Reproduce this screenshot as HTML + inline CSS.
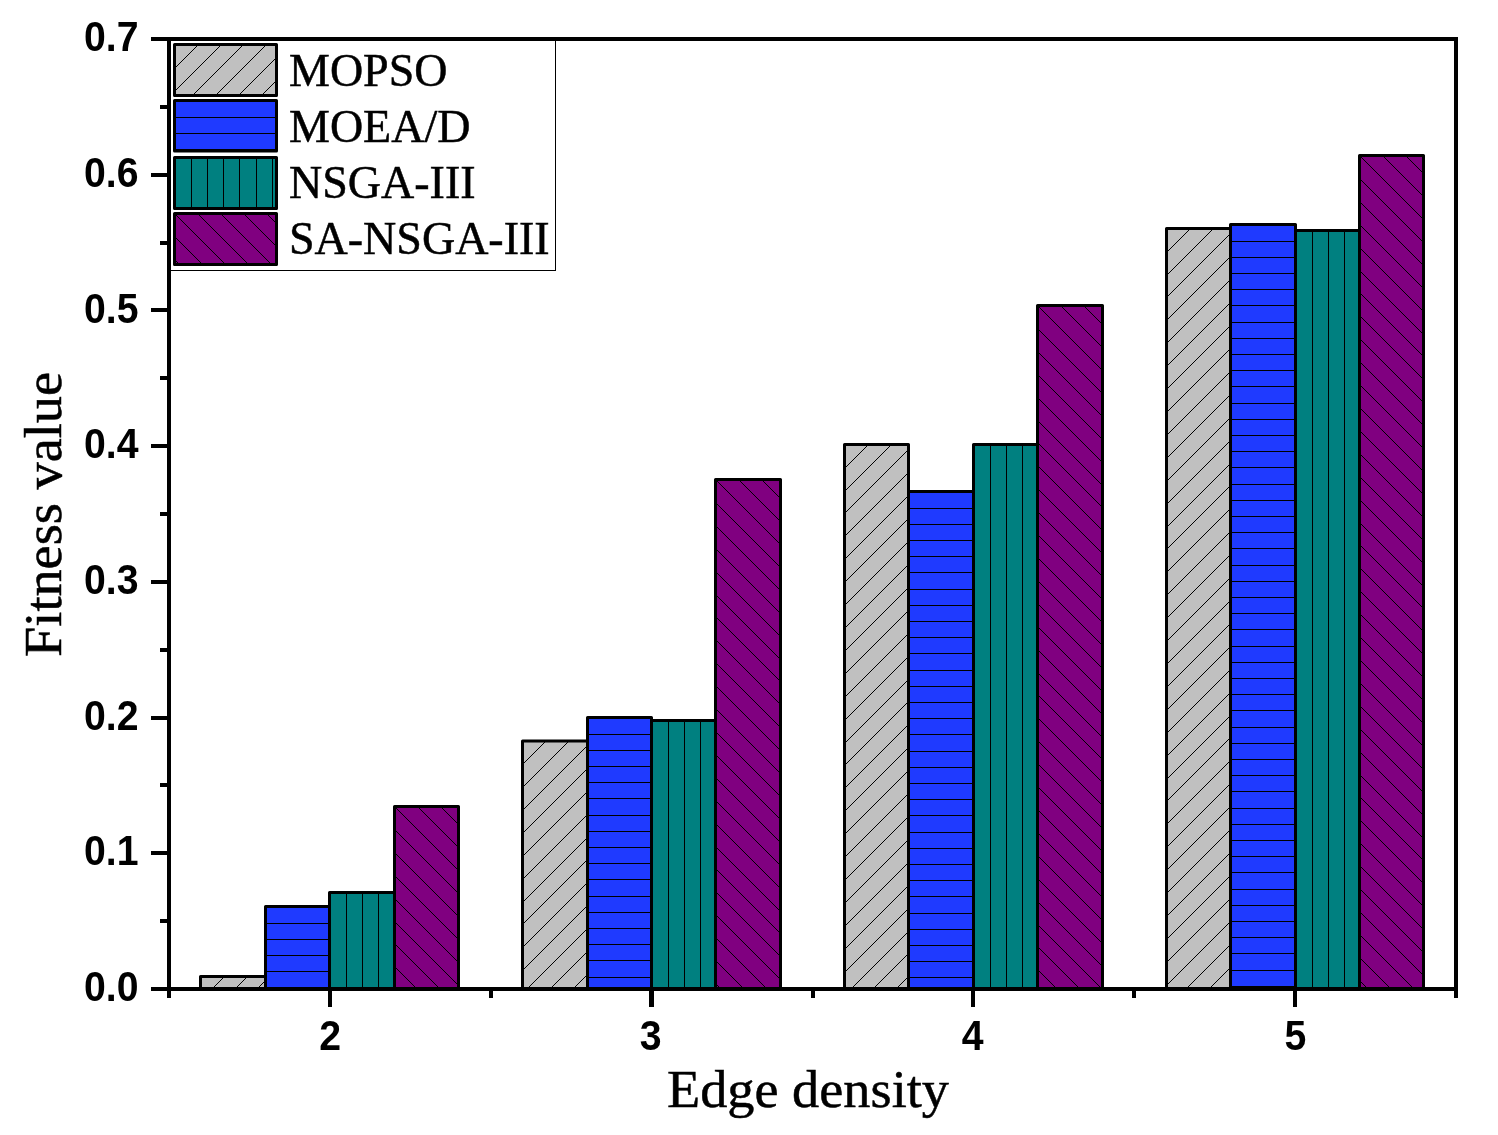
<!DOCTYPE html>
<html lang="en"><head><meta charset="utf-8"><title>Fitness value vs Edge density</title>
<style>
html,body{margin:0;padding:0;background:#fff;}
body{width:1498px;height:1135px;overflow:hidden;}
svg{display:block;will-change:transform;}
.tk{font-family:"Liberation Sans",Arial,Helvetica,sans-serif;font-weight:bold;font-size:41.8px;fill:#000;}
.ttl{font-family:"Liberation Serif","Times New Roman",Times,serif;font-size:53.5px;fill:#000;stroke:#000;stroke-width:0.5px;}
.leg{font-family:"Liberation Serif","Times New Roman",Times,serif;font-size:46px;fill:#000;stroke:#000;stroke-width:0.5px;}
</style></head><body>
<svg width="1498" height="1135" viewBox="0 0 1498 1135">
<rect width="1498" height="1135" fill="#fff"/>
<clipPath id="c1"><rect x="200.50" y="976.50" width="65.00" height="12.50"/></clipPath>
<rect x="200.50" y="976.50" width="65.00" height="12.50" fill="#c0c0c0"/>
<path d="M198.50 1002.50L267.50 933.50M198.50 1025.50L267.50 956.50M198.50 1047.50L267.50 978.50" stroke="#000" stroke-width="1" fill="none" clip-path="url(#c1)" shape-rendering="crispEdges"/>
<rect x="200.50" y="976.50" width="65.00" height="12.50" fill="none" stroke="#000" stroke-width="3" stroke-linejoin="round"/>
<clipPath id="c2"><rect x="265.50" y="906.50" width="64.00" height="82.50"/></clipPath>
<rect x="265.50" y="906.50" width="64.00" height="82.50" fill="#1f3aff"/>
<path d="M265.50 923.10H329.50M265.50 939.30H329.50M265.50 955.50H329.50M265.50 971.70H329.50M265.50 987.90H329.50" stroke="#000" stroke-width="1" fill="none" clip-path="url(#c2)" shape-rendering="crispEdges"/>
<rect x="265.50" y="906.50" width="64.00" height="82.50" fill="none" stroke="#000" stroke-width="3" stroke-linejoin="round"/>
<clipPath id="c3"><rect x="329.50" y="892.50" width="65.00" height="96.50"/></clipPath>
<rect x="329.50" y="892.50" width="65.00" height="96.50" fill="#008080"/>
<path d="M346.30 892.50V989.00M362.50 892.50V989.00M378.70 892.50V989.00" stroke="#000" stroke-width="1" fill="none" clip-path="url(#c3)" shape-rendering="crispEdges"/>
<rect x="329.50" y="892.50" width="65.00" height="96.50" fill="none" stroke="#000" stroke-width="3" stroke-linejoin="round"/>
<clipPath id="c4"><rect x="394.50" y="806.50" width="64.00" height="182.50"/></clipPath>
<rect x="394.50" y="806.50" width="64.00" height="182.50" fill="#800080"/>
<path d="M392.50 758.50L460.50 826.50M392.50 781.50L460.50 849.50M392.50 804.50L460.50 872.50M392.50 827.50L460.50 895.50M392.50 850.50L460.50 918.50M392.50 873.50L460.50 941.50M392.50 896.50L460.50 964.50M392.50 919.50L460.50 987.50M392.50 941.50L460.50 1009.50M392.50 964.50L460.50 1032.50" stroke="#000" stroke-width="1" fill="none" clip-path="url(#c4)" shape-rendering="crispEdges"/>
<rect x="394.50" y="806.50" width="64.00" height="182.50" fill="none" stroke="#000" stroke-width="3" stroke-linejoin="round"/>
<clipPath id="c5"><rect x="522.50" y="741.00" width="65.00" height="248.00"/></clipPath>
<rect x="522.50" y="741.00" width="65.00" height="248.00" fill="#c0c0c0"/>
<path d="M520.50 766.50L589.50 697.50M520.50 789.50L589.50 720.50M520.50 812.50L589.50 743.50M520.50 835.50L589.50 766.50M520.50 858.50L589.50 789.50M520.50 881.50L589.50 812.50M520.50 904.50L589.50 835.50M520.50 926.50L589.50 857.50M520.50 949.50L589.50 880.50M520.50 972.50L589.50 903.50M520.50 995.50L589.50 926.50M520.50 1018.50L589.50 949.50M520.50 1041.50L589.50 972.50" stroke="#000" stroke-width="1" fill="none" clip-path="url(#c5)" shape-rendering="crispEdges"/>
<rect x="522.50" y="741.00" width="65.00" height="248.00" fill="none" stroke="#000" stroke-width="3" stroke-linejoin="round"/>
<clipPath id="c6"><rect x="587.50" y="717.50" width="64.00" height="271.50"/></clipPath>
<rect x="587.50" y="717.50" width="64.00" height="271.50" fill="#1f3aff"/>
<path d="M587.50 734.10H651.50M587.50 750.30H651.50M587.50 766.50H651.50M587.50 782.70H651.50M587.50 798.90H651.50M587.50 815.10H651.50M587.50 831.30H651.50M587.50 847.50H651.50M587.50 863.70H651.50M587.50 879.90H651.50M587.50 896.10H651.50M587.50 912.30H651.50M587.50 928.50H651.50M587.50 944.70H651.50M587.50 960.90H651.50M587.50 977.10H651.50" stroke="#000" stroke-width="1" fill="none" clip-path="url(#c6)" shape-rendering="crispEdges"/>
<rect x="587.50" y="717.50" width="64.00" height="271.50" fill="none" stroke="#000" stroke-width="3" stroke-linejoin="round"/>
<clipPath id="c7"><rect x="651.50" y="720.50" width="64.00" height="268.50"/></clipPath>
<rect x="651.50" y="720.50" width="64.00" height="268.50" fill="#008080"/>
<path d="M668.30 720.50V989.00M684.50 720.50V989.00M700.70 720.50V989.00" stroke="#000" stroke-width="1" fill="none" clip-path="url(#c7)" shape-rendering="crispEdges"/>
<rect x="651.50" y="720.50" width="64.00" height="268.50" fill="none" stroke="#000" stroke-width="3" stroke-linejoin="round"/>
<clipPath id="c8"><rect x="715.50" y="479.50" width="65.00" height="509.50"/></clipPath>
<rect x="715.50" y="479.50" width="65.00" height="509.50" fill="#800080"/>
<path d="M713.50 431.50L782.50 500.50M713.50 454.50L782.50 523.50M713.50 477.50L782.50 546.50M713.50 500.50L782.50 569.50M713.50 523.50L782.50 592.50M713.50 546.50L782.50 615.50M713.50 569.50L782.50 638.50M713.50 592.50L782.50 661.50M713.50 614.50L782.50 683.50M713.50 637.50L782.50 706.50M713.50 660.50L782.50 729.50M713.50 683.50L782.50 752.50M713.50 706.50L782.50 775.50M713.50 729.50L782.50 798.50M713.50 752.50L782.50 821.50M713.50 775.50L782.50 844.50M713.50 798.50L782.50 867.50M713.50 821.50L782.50 890.50M713.50 844.50L782.50 913.50M713.50 866.50L782.50 935.50M713.50 889.50L782.50 958.50M713.50 912.50L782.50 981.50M713.50 935.50L782.50 1004.50M713.50 958.50L782.50 1027.50M713.50 981.50L782.50 1050.50" stroke="#000" stroke-width="1" fill="none" clip-path="url(#c8)" shape-rendering="crispEdges"/>
<rect x="715.50" y="479.50" width="65.00" height="509.50" fill="none" stroke="#000" stroke-width="3" stroke-linejoin="round"/>
<clipPath id="c9"><rect x="844.50" y="444.50" width="64.00" height="544.50"/></clipPath>
<rect x="844.50" y="444.50" width="64.00" height="544.50" fill="#c0c0c0"/>
<path d="M842.50 470.50L910.50 402.50M842.50 493.50L910.50 425.50M842.50 515.50L910.50 447.50M842.50 538.50L910.50 470.50M842.50 561.50L910.50 493.50M842.50 584.50L910.50 516.50M842.50 607.50L910.50 539.50M842.50 630.50L910.50 562.50M842.50 653.50L910.50 585.50M842.50 676.50L910.50 608.50M842.50 699.50L910.50 631.50M842.50 722.50L910.50 654.50M842.50 745.50L910.50 677.50M842.50 767.50L910.50 699.50M842.50 790.50L910.50 722.50M842.50 813.50L910.50 745.50M842.50 836.50L910.50 768.50M842.50 859.50L910.50 791.50M842.50 882.50L910.50 814.50M842.50 905.50L910.50 837.50M842.50 928.50L910.50 860.50M842.50 951.50L910.50 883.50M842.50 974.50L910.50 906.50M842.50 997.50L910.50 929.50M842.50 1019.50L910.50 951.50M842.50 1042.50L910.50 974.50" stroke="#000" stroke-width="1" fill="none" clip-path="url(#c9)" shape-rendering="crispEdges"/>
<rect x="844.50" y="444.50" width="64.00" height="544.50" fill="none" stroke="#000" stroke-width="3" stroke-linejoin="round"/>
<clipPath id="c10"><rect x="908.50" y="491.50" width="65.00" height="497.50"/></clipPath>
<rect x="908.50" y="491.50" width="65.00" height="497.50" fill="#1f3aff"/>
<path d="M908.50 508.10H973.50M908.50 524.30H973.50M908.50 540.50H973.50M908.50 556.70H973.50M908.50 572.90H973.50M908.50 589.10H973.50M908.50 605.30H973.50M908.50 621.50H973.50M908.50 637.70H973.50M908.50 653.90H973.50M908.50 670.10H973.50M908.50 686.30H973.50M908.50 702.50H973.50M908.50 718.70H973.50M908.50 734.90H973.50M908.50 751.10H973.50M908.50 767.30H973.50M908.50 783.50H973.50M908.50 799.70H973.50M908.50 815.90H973.50M908.50 832.10H973.50M908.50 848.30H973.50M908.50 864.50H973.50M908.50 880.70H973.50M908.50 896.90H973.50M908.50 913.10H973.50M908.50 929.30H973.50M908.50 945.50H973.50M908.50 961.70H973.50M908.50 977.90H973.50" stroke="#000" stroke-width="1" fill="none" clip-path="url(#c10)" shape-rendering="crispEdges"/>
<rect x="908.50" y="491.50" width="65.00" height="497.50" fill="none" stroke="#000" stroke-width="3" stroke-linejoin="round"/>
<clipPath id="c11"><rect x="973.50" y="444.50" width="64.00" height="544.50"/></clipPath>
<rect x="973.50" y="444.50" width="64.00" height="544.50" fill="#008080"/>
<path d="M990.30 444.50V989.00M1006.50 444.50V989.00M1022.70 444.50V989.00" stroke="#000" stroke-width="1" fill="none" clip-path="url(#c11)" shape-rendering="crispEdges"/>
<rect x="973.50" y="444.50" width="64.00" height="544.50" fill="none" stroke="#000" stroke-width="3" stroke-linejoin="round"/>
<clipPath id="c12"><rect x="1037.50" y="305.50" width="65.00" height="683.50"/></clipPath>
<rect x="1037.50" y="305.50" width="65.00" height="683.50" fill="#800080"/>
<path d="M1035.50 257.50L1104.50 326.50M1035.50 280.50L1104.50 349.50M1035.50 303.50L1104.50 372.50M1035.50 326.50L1104.50 395.50M1035.50 349.50L1104.50 418.50M1035.50 372.50L1104.50 441.50M1035.50 395.50L1104.50 464.50M1035.50 418.50L1104.50 487.50M1035.50 440.50L1104.50 509.50M1035.50 463.50L1104.50 532.50M1035.50 486.50L1104.50 555.50M1035.50 509.50L1104.50 578.50M1035.50 532.50L1104.50 601.50M1035.50 555.50L1104.50 624.50M1035.50 578.50L1104.50 647.50M1035.50 601.50L1104.50 670.50M1035.50 624.50L1104.50 693.50M1035.50 647.50L1104.50 716.50M1035.50 670.50L1104.50 739.50M1035.50 692.50L1104.50 761.50M1035.50 715.50L1104.50 784.50M1035.50 738.50L1104.50 807.50M1035.50 761.50L1104.50 830.50M1035.50 784.50L1104.50 853.50M1035.50 807.50L1104.50 876.50M1035.50 830.50L1104.50 899.50M1035.50 853.50L1104.50 922.50M1035.50 876.50L1104.50 945.50M1035.50 899.50L1104.50 968.50M1035.50 922.50L1104.50 991.50M1035.50 944.50L1104.50 1013.50M1035.50 967.50L1104.50 1036.50" stroke="#000" stroke-width="1" fill="none" clip-path="url(#c12)" shape-rendering="crispEdges"/>
<rect x="1037.50" y="305.50" width="65.00" height="683.50" fill="none" stroke="#000" stroke-width="3" stroke-linejoin="round"/>
<clipPath id="c13"><rect x="1166.50" y="228.50" width="64.00" height="760.50"/></clipPath>
<rect x="1166.50" y="228.50" width="64.00" height="760.50" fill="#c0c0c0"/>
<path d="M1164.50 254.50L1232.50 186.50M1164.50 277.50L1232.50 209.50M1164.50 299.50L1232.50 231.50M1164.50 322.50L1232.50 254.50M1164.50 345.50L1232.50 277.50M1164.50 368.50L1232.50 300.50M1164.50 391.50L1232.50 323.50M1164.50 414.50L1232.50 346.50M1164.50 437.50L1232.50 369.50M1164.50 460.50L1232.50 392.50M1164.50 483.50L1232.50 415.50M1164.50 506.50L1232.50 438.50M1164.50 529.50L1232.50 461.50M1164.50 551.50L1232.50 483.50M1164.50 574.50L1232.50 506.50M1164.50 597.50L1232.50 529.50M1164.50 620.50L1232.50 552.50M1164.50 643.50L1232.50 575.50M1164.50 666.50L1232.50 598.50M1164.50 689.50L1232.50 621.50M1164.50 712.50L1232.50 644.50M1164.50 735.50L1232.50 667.50M1164.50 758.50L1232.50 690.50M1164.50 781.50L1232.50 713.50M1164.50 803.50L1232.50 735.50M1164.50 826.50L1232.50 758.50M1164.50 849.50L1232.50 781.50M1164.50 872.50L1232.50 804.50M1164.50 895.50L1232.50 827.50M1164.50 918.50L1232.50 850.50M1164.50 941.50L1232.50 873.50M1164.50 964.50L1232.50 896.50M1164.50 987.50L1232.50 919.50M1164.50 1010.50L1232.50 942.50M1164.50 1033.50L1232.50 965.50" stroke="#000" stroke-width="1" fill="none" clip-path="url(#c13)" shape-rendering="crispEdges"/>
<rect x="1166.50" y="228.50" width="64.00" height="760.50" fill="none" stroke="#000" stroke-width="3" stroke-linejoin="round"/>
<clipPath id="c14"><rect x="1230.50" y="224.50" width="65.00" height="764.50"/></clipPath>
<rect x="1230.50" y="224.50" width="65.00" height="764.50" fill="#1f3aff"/>
<path d="M1230.50 241.10H1295.50M1230.50 257.30H1295.50M1230.50 273.50H1295.50M1230.50 289.70H1295.50M1230.50 305.90H1295.50M1230.50 322.10H1295.50M1230.50 338.30H1295.50M1230.50 354.50H1295.50M1230.50 370.70H1295.50M1230.50 386.90H1295.50M1230.50 403.10H1295.50M1230.50 419.30H1295.50M1230.50 435.50H1295.50M1230.50 451.70H1295.50M1230.50 467.90H1295.50M1230.50 484.10H1295.50M1230.50 500.30H1295.50M1230.50 516.50H1295.50M1230.50 532.70H1295.50M1230.50 548.90H1295.50M1230.50 565.10H1295.50M1230.50 581.30H1295.50M1230.50 597.50H1295.50M1230.50 613.70H1295.50M1230.50 629.90H1295.50M1230.50 646.10H1295.50M1230.50 662.30H1295.50M1230.50 678.50H1295.50M1230.50 694.70H1295.50M1230.50 710.90H1295.50M1230.50 727.10H1295.50M1230.50 743.30H1295.50M1230.50 759.50H1295.50M1230.50 775.70H1295.50M1230.50 791.90H1295.50M1230.50 808.10H1295.50M1230.50 824.30H1295.50M1230.50 840.50H1295.50M1230.50 856.70H1295.50M1230.50 872.90H1295.50M1230.50 889.10H1295.50M1230.50 905.30H1295.50M1230.50 921.50H1295.50M1230.50 937.70H1295.50M1230.50 953.90H1295.50M1230.50 970.10H1295.50M1230.50 986.30H1295.50" stroke="#000" stroke-width="1" fill="none" clip-path="url(#c14)" shape-rendering="crispEdges"/>
<rect x="1230.50" y="224.50" width="65.00" height="764.50" fill="none" stroke="#000" stroke-width="3" stroke-linejoin="round"/>
<clipPath id="c15"><rect x="1295.50" y="230.50" width="64.00" height="758.50"/></clipPath>
<rect x="1295.50" y="230.50" width="64.00" height="758.50" fill="#008080"/>
<path d="M1312.30 230.50V989.00M1328.50 230.50V989.00M1344.70 230.50V989.00" stroke="#000" stroke-width="1" fill="none" clip-path="url(#c15)" shape-rendering="crispEdges"/>
<rect x="1295.50" y="230.50" width="64.00" height="758.50" fill="none" stroke="#000" stroke-width="3" stroke-linejoin="round"/>
<clipPath id="c16"><rect x="1359.50" y="155.50" width="64.00" height="833.50"/></clipPath>
<rect x="1359.50" y="155.50" width="64.00" height="833.50" fill="#800080"/>
<path d="M1357.50 107.50L1425.50 175.50M1357.50 130.50L1425.50 198.50M1357.50 153.50L1425.50 221.50M1357.50 176.50L1425.50 244.50M1357.50 199.50L1425.50 267.50M1357.50 222.50L1425.50 290.50M1357.50 245.50L1425.50 313.50M1357.50 268.50L1425.50 336.50M1357.50 290.50L1425.50 358.50M1357.50 313.50L1425.50 381.50M1357.50 336.50L1425.50 404.50M1357.50 359.50L1425.50 427.50M1357.50 382.50L1425.50 450.50M1357.50 405.50L1425.50 473.50M1357.50 428.50L1425.50 496.50M1357.50 451.50L1425.50 519.50M1357.50 474.50L1425.50 542.50M1357.50 497.50L1425.50 565.50M1357.50 520.50L1425.50 588.50M1357.50 542.50L1425.50 610.50M1357.50 565.50L1425.50 633.50M1357.50 588.50L1425.50 656.50M1357.50 611.50L1425.50 679.50M1357.50 634.50L1425.50 702.50M1357.50 657.50L1425.50 725.50M1357.50 680.50L1425.50 748.50M1357.50 703.50L1425.50 771.50M1357.50 726.50L1425.50 794.50M1357.50 749.50L1425.50 817.50M1357.50 772.50L1425.50 840.50M1357.50 794.50L1425.50 862.50M1357.50 817.50L1425.50 885.50M1357.50 840.50L1425.50 908.50M1357.50 863.50L1425.50 931.50M1357.50 886.50L1425.50 954.50M1357.50 909.50L1425.50 977.50M1357.50 932.50L1425.50 1000.50M1357.50 955.50L1425.50 1023.50M1357.50 978.50L1425.50 1046.50" stroke="#000" stroke-width="1" fill="none" clip-path="url(#c16)" shape-rendering="crispEdges"/>
<rect x="1359.50" y="155.50" width="64.00" height="833.50" fill="none" stroke="#000" stroke-width="3" stroke-linejoin="round"/>
<rect x="169" y="40.5" width="386.5" height="230.3" fill="#fff" stroke="#000" stroke-width="1" shape-rendering="crispEdges"/>
<clipPath id="c17"><rect x="174.50" y="44.50" width="102.00" height="51.00"/></clipPath>
<rect x="174.50" y="44.50" width="102.00" height="51.00" fill="#c0c0c0"/>
<path d="M172.50 70.50L278.50 -35.50M172.50 93.50L278.50 -12.50M172.50 115.50L278.50 9.50M172.50 138.50L278.50 32.50M172.50 161.50L278.50 55.50M172.50 184.50L278.50 78.50" stroke="#000" stroke-width="1" fill="none" clip-path="url(#c17)" shape-rendering="crispEdges"/>
<rect x="174.50" y="44.50" width="102.00" height="51.00" fill="none" stroke="#000" stroke-width="3" stroke-linejoin="round"/>
<text x="289.0" y="86.2" class="leg">MOPSO</text>
<clipPath id="c18"><rect x="174.50" y="100.50" width="102.00" height="50.50"/></clipPath>
<rect x="174.50" y="100.50" width="102.00" height="50.50" fill="#1f3aff"/>
<path d="M174.50 117.10H276.50M174.50 133.30H276.50M174.50 149.50H276.50" stroke="#000" stroke-width="1" fill="none" clip-path="url(#c18)" shape-rendering="crispEdges"/>
<rect x="174.50" y="100.50" width="102.00" height="50.50" fill="none" stroke="#000" stroke-width="3" stroke-linejoin="round"/>
<text x="289.0" y="141.7" class="leg">MOEA/D</text>
<clipPath id="c19"><rect x="174.50" y="157.50" width="102.00" height="51.00"/></clipPath>
<rect x="174.50" y="157.50" width="102.00" height="51.00" fill="#008080"/>
<path d="M191.30 157.50V208.50M207.50 157.50V208.50M223.70 157.50V208.50M239.90 157.50V208.50M256.10 157.50V208.50M272.30 157.50V208.50" stroke="#000" stroke-width="1" fill="none" clip-path="url(#c19)" shape-rendering="crispEdges"/>
<rect x="174.50" y="157.50" width="102.00" height="51.00" fill="none" stroke="#000" stroke-width="3" stroke-linejoin="round"/>
<text x="289.0" y="197.6" class="leg">NSGA-III</text>
<clipPath id="c20"><rect x="174.50" y="213.50" width="102.00" height="51.00"/></clipPath>
<rect x="174.50" y="213.50" width="102.00" height="51.00" fill="#800080"/>
<path d="M172.50 119.50L278.50 225.50M172.50 142.50L278.50 248.50M172.50 165.50L278.50 271.50M172.50 188.50L278.50 294.50M172.50 211.50L278.50 317.50M172.50 234.50L278.50 340.50M172.50 257.50L278.50 363.50" stroke="#000" stroke-width="1" fill="none" clip-path="url(#c20)" shape-rendering="crispEdges"/>
<rect x="174.50" y="213.50" width="102.00" height="51.00" fill="none" stroke="#000" stroke-width="3" stroke-linejoin="round"/>
<text x="289.0" y="254.2" class="leg">SA-NSGA-III</text>
<g fill="#000" shape-rendering="crispEdges"><rect x="167.00" y="37.00" width="4.00" height="961.00"/><rect x="1454.00" y="37.00" width="4.00" height="961.00"/><rect x="151.00" y="37.00" width="1307.00" height="4.00"/><rect x="151.00" y="987.00" width="1307.00" height="4.00"/><rect x="151.00" y="851.29" width="16.00" height="4.00"/><rect x="151.00" y="715.57" width="16.00" height="4.00"/><rect x="151.00" y="579.86" width="16.00" height="4.00"/><rect x="151.00" y="444.14" width="16.00" height="4.00"/><rect x="151.00" y="308.43" width="16.00" height="4.00"/><rect x="151.00" y="172.71" width="16.00" height="4.00"/><rect x="160.00" y="919.14" width="7.00" height="4.00"/><rect x="160.00" y="783.43" width="7.00" height="4.00"/><rect x="160.00" y="647.71" width="7.00" height="4.00"/><rect x="160.00" y="512.00" width="7.00" height="4.00"/><rect x="160.00" y="376.29" width="7.00" height="4.00"/><rect x="160.00" y="240.57" width="7.00" height="4.00"/><rect x="160.00" y="104.86" width="7.00" height="4.00"/><rect x="328.00" y="991.00" width="4.00" height="16.00"/><rect x="649.00" y="991.00" width="5.00" height="16.00"/><rect x="971.00" y="991.00" width="4.00" height="16.00"/><rect x="1293.00" y="991.00" width="4.00" height="16.00"/><rect x="488.84" y="991.00" width="4.00" height="7.00"/><rect x="810.50" y="991.00" width="4.00" height="7.00"/><rect x="1132.18" y="991.00" width="4.00" height="7.00"/></g>
<text transform="translate(138.5 1001.1) scale(0.938 1)" class="tk" text-anchor="end">0.0</text>
<text transform="translate(138.5 865.4) scale(0.938 1)" class="tk" text-anchor="end">0.1</text>
<text transform="translate(138.5 729.7) scale(0.938 1)" class="tk" text-anchor="end">0.2</text>
<text transform="translate(138.5 594.0) scale(0.938 1)" class="tk" text-anchor="end">0.3</text>
<text transform="translate(138.5 458.2) scale(0.938 1)" class="tk" text-anchor="end">0.4</text>
<text transform="translate(138.5 322.5) scale(0.938 1)" class="tk" text-anchor="end">0.5</text>
<text transform="translate(138.5 186.8) scale(0.938 1)" class="tk" text-anchor="end">0.6</text>
<text transform="translate(138.5 51.1) scale(0.938 1)" class="tk" text-anchor="end">0.7</text>
<text transform="translate(330.2 1049.8) scale(0.938 1)" class="tk" text-anchor="middle">2</text>
<text transform="translate(650.7 1049.8) scale(0.938 1)" class="tk" text-anchor="middle">3</text>
<text transform="translate(972.6 1049.8) scale(0.938 1)" class="tk" text-anchor="middle">4</text>
<text transform="translate(1295.4 1049.8) scale(0.938 1)" class="tk" text-anchor="middle">5</text>
<text transform="translate(667.0 1106.7) scale(1.015 1)" class="ttl">Edge density</text>
<text transform="translate(61.3 514.4) rotate(-90) scale(1.015 1)" class="ttl" text-anchor="middle">Fitness value</text>
</svg>
</body></html>
